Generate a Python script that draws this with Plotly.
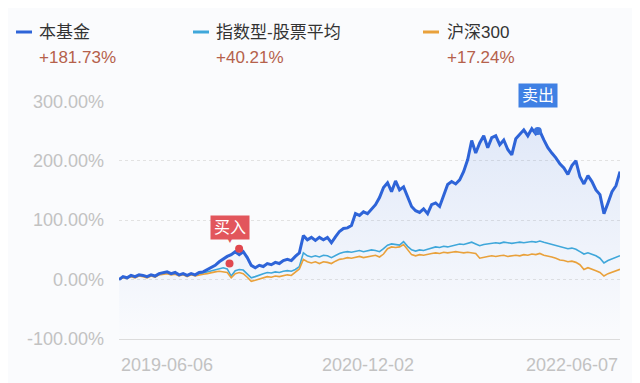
import plotly.graph_objects as go
import pandas as pd

# ---------------- data ----------------
start_date = "2019-06-06"
end_date = "2022-06-07"
n_points = 126

series_names = ["本基金", "指数型-股票平均", "沪深300"]
series_returns = ["+181.73%", "+40.21%", "+17.24%"]
series_colors = ["#2e64d8", "#3fa7da", "#e9a13b"]

fund = [0, 5, 3, 7, 5, 8, 7, 5, 8, 6,
        10, 12, 13, 10, 12, 8, 10, 7, 10, 8,
        12, 13, 17, 20, 24, 30, 35, 39, 42, 47,
        42, 47, 37, 24, 20, 24, 22, 27, 25, 29,
        27, 32, 34, 32, 39, 45, 74, 67, 71, 66,
        71, 67, 71, 62, 72, 81, 86, 87, 91, 111,
        108, 114, 111, 118, 126, 138, 155, 163, 148, 166,
        151, 156, 138, 123, 116, 113, 119, 111, 126, 129,
        123, 141, 160, 165, 161, 168, 182, 202, 234, 213,
        230, 242, 222, 239, 242, 227, 235, 219, 210, 237,
        245, 252, 242, 254, 245, 250, 235, 222, 213, 205,
        195, 188, 177, 192, 200, 173, 161, 175, 165, 151,
        143, 111, 129, 148, 158, 181.73]

index_avg = [0, 4, 2, 6, 4, 7, 6, 4, 7, 5,
             9, 11, 12, 9, 11, 7, 9, 6, 9, 7,
             10, 11, 13, 15, 17, 19, 20, 18, 6, 15,
             17, 16, 10, 3, 5, 8, 10, 12, 11, 13,
             12, 14, 15, 14, 17, 22, 45, 40, 38, 40,
             38, 41, 40, 37, 41, 44, 46, 47, 46, 48,
             49, 47, 48, 50, 49, 47, 52, 58, 60, 59,
             58, 64, 56, 50, 48, 50, 49, 51, 53, 55,
             54, 56, 55, 57, 58, 60, 59, 61, 63, 60,
             57, 59, 60, 61, 62, 61, 63, 62, 61, 62,
             63, 62, 63, 64, 63, 65, 63, 61, 60, 58,
             56, 54, 52, 53, 51, 47, 43, 45, 43, 40,
             36, 28, 32, 35, 37, 40.21]

csi300 = [0, 3, 2, 5, 3, 6, 5, 3, 6, 4,
          8, 9, 10, 8, 9, 6, 8, 5, 8, 6,
          8, 9, 10, 12, 13, 14, 13, 12, 3, 10,
          12, 10, 4, -3, -1, 1, 3, 5, 4, 6,
          5, 7, 8, 7, 12, 18, 34, 30, 28, 30,
          27, 30, 29, 27, 31, 34, 35, 37, 36, 38,
          39, 37, 38, 40, 41, 38, 43, 52, 55, 54,
          55, 59, 50, 42, 40, 42, 41, 43, 44, 45,
          44, 46, 45, 46, 47, 46, 45, 46, 45, 44,
          36, 38, 39, 40, 39, 40, 41, 39, 40, 41,
          40, 42, 41, 43, 42, 44, 41, 40, 38, 36,
          33, 32, 30, 31, 29, 25, 17, 20, 18, 15,
          12, 6, 10, 12, 14, 17.24]

buy_dates = ["2020-02-03", "2020-02-24"]
buy_values = [27, 52]
sell_dates = ["2021-12-09"]
sell_values = [250]

y_tick_vals = [-100, 0, 100, 200, 300]
y_tick_text = ["-100.00%", "0.00%", "100.00%", "200.00%", "300.00%"]
x_tick_dates = ["2019-06-06", "2020-12-02", "2022-06-07"]
x_tick_anchor = ["left", "center", "right"]

dates = pd.date_range(start_date, end_date, periods=n_points)

# ---------------- layout helpers ----------------
PAGE_OFFSET = 8  # default body margin of the html page
W, H = 640 - PAGE_OFFSET, 383 - PAGE_OFFSET
ML, MR, MT, MB = 119 - PAGE_OFFSET, 20, 101 - PAGE_OFFSET, 44
PW, PH = W - ML - MR, H - MT - MB


def px_x(px):
    return (px - PAGE_OFFSET - ML) / PW


def px_y(py):
    return (H - MB - (py - PAGE_OFFSET)) / PH


FONT = "Liberation Sans, Noto Sans CJK SC, sans-serif"
BG = "#fafbfd"

fig = go.Figure()

# gradient fill under the fund line (down to the axis bottom)
baseline = [min(y_tick_vals)] * len(dates)
fig.add_trace(go.Scatter(x=dates, y=baseline, mode="lines",
                         line=dict(width=0), hoverinfo="skip", showlegend=False))
fig.add_trace(go.Scatter(x=dates, y=fund, mode="lines", line=dict(width=0),
                         fill="tonexty",
                         fillgradient=dict(type="vertical",
                                           colorscale=[[0, "rgba(70,120,220,0.0)"],
                                                       [1, "rgba(70,120,220,0.14)"]]),
                         hoverinfo="skip", showlegend=False))

fig.add_trace(go.Scatter(x=dates, y=index_avg, mode="lines", name=series_names[1],
                         line=dict(color=series_colors[1], width=1.6), showlegend=False))
fig.add_trace(go.Scatter(x=dates, y=csi300, mode="lines", name=series_names[2],
                         line=dict(color=series_colors[2], width=1.6), showlegend=False))
fig.add_trace(go.Scatter(x=dates, y=fund, mode="lines", name=series_names[0],
                         line=dict(color=series_colors[0], width=3), showlegend=False))

fig.add_trace(go.Scatter(x=buy_dates, y=buy_values, mode="markers",
                         marker=dict(color="#e0474f", size=8), cliponaxis=False,
                         showlegend=False))
fig.add_trace(go.Scatter(x=sell_dates, y=sell_values, mode="markers",
                         marker=dict(color="#3b73dc", size=8), cliponaxis=False,
                         showlegend=False))

annotations = []
# callouts
annotations.append(dict(x=buy_dates[0], y=buy_values[0], xref="x", yref="y",
                        text="买入", showarrow=False, yshift=36,
                        bgcolor="#e2565c", borderpad=3,
                        font=dict(family=FONT, size=16, color="white")))
annotations.append(dict(x=buy_dates[0], y=buy_values[0], xref="x", yref="y",
                        text="▼", showarrow=False, yshift=23,
                        font=dict(family=FONT, size=8, color="#e2565c")))
annotations.append(dict(x=sell_dates[0], y=sell_values[0], xref="x", yref="y",
                        text="卖出", showarrow=False, yshift=36,
                        bgcolor="#3f80e4", borderpad=3,
                        font=dict(family=FONT, size=16, color="white")))

# x tick labels
for d, anc in zip(x_tick_dates, x_tick_anchor):
    annotations.append(dict(x=d, y=0, xref="x", yref="paper", text=d,
                            showarrow=False, xanchor=anc, yanchor="middle",
                            yshift=-26,
                            font=dict(family=FONT, size=18, color="#c2c2c2")))

# custom legend
legend_icon_x = [16, 193, 423]
legend_text_x = [37, 214, 445]
shapes = []
for i in range(3):
    shapes.append(dict(type="line", xref="paper", yref="paper",
                       x0=px_x(legend_icon_x[i]), x1=px_x(legend_icon_x[i] + 16),
                       y0=px_y(32), y1=px_y(32),
                       line=dict(color=series_colors[i], width=3)))
    annotations.append(dict(x=px_x(legend_text_x[i]), y=px_y(33), xref="paper",
                            yref="paper", text=series_names[i], showarrow=False,
                            xanchor="left", yanchor="middle",
                            font=dict(family=FONT, size=17, color="#333333")))
    annotations.append(dict(x=px_x(legend_text_x[i]), y=px_y(58), xref="paper",
                            yref="paper", text=series_returns[i], showarrow=False,
                            xanchor="left", yanchor="middle",
                            font=dict(family=FONT, size=17, color="#b5614b")))

fig.update_layout(
    width=W, height=H,
    margin=dict(l=ML, r=MR, t=MT, b=MB),
    paper_bgcolor=BG, plot_bgcolor=BG,
    showlegend=False,
    annotations=annotations,
    shapes=shapes,
    xaxis=dict(range=[start_date, end_date], showgrid=False, zeroline=False,
               showline=True, linecolor="#dcdcdc", linewidth=1,
               showticklabels=False, ticks=""),
    yaxis=dict(range=[-100, 300.6], tickvals=y_tick_vals, ticktext=y_tick_text,
               showgrid=True, gridcolor="#e2e2e2", griddash="dot", gridwidth=1,
               zeroline=False, showline=False, ticks="",
               ticklabelstandoff=14,
               tickfont=dict(family=FONT, size=18, color="#c2c2c2")),
)

fig.write_html("out.html")
